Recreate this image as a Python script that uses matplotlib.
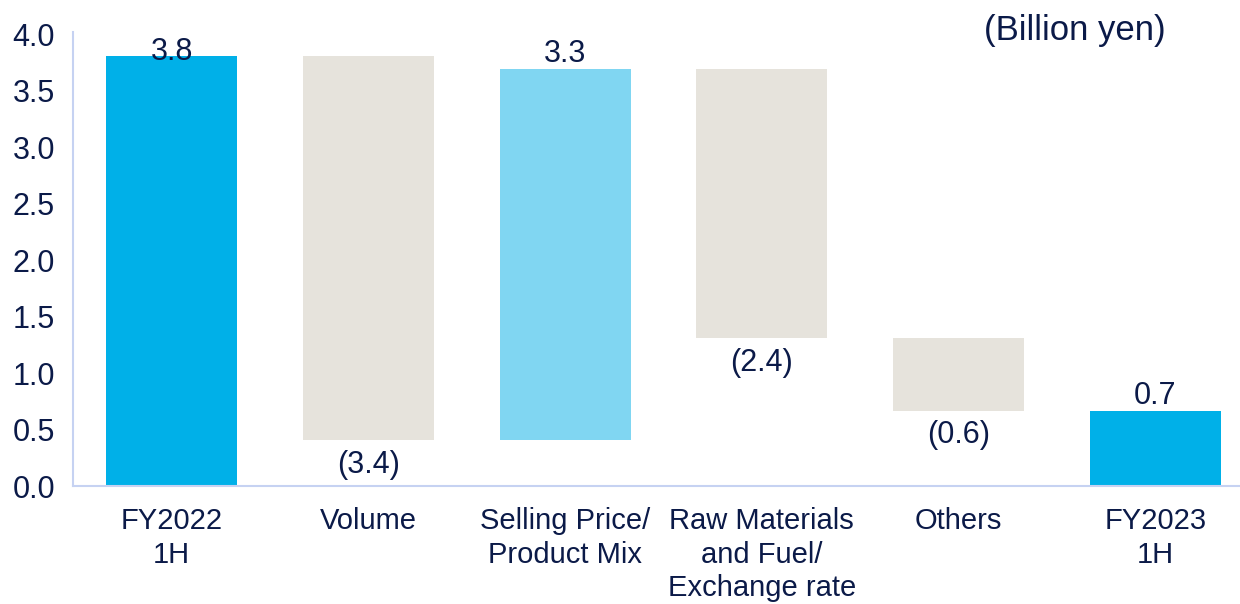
import matplotlib
matplotlib.use('Agg')
from matplotlib import pyplot as plt

categories = ['FY2022\n1H', 'Volume', 'Selling Price/\nProduct Mix',
              'Raw Materials\nand Fuel/\nExchange rate', 'Others', 'FY2023\n1H']
start_value = 3.81
deltas = [-3.40, 3.28, -2.38, -0.64]
end_value = 0.67
labels = ['3.8', '(3.4)', '3.3', '(2.4)', '(0.6)', '0.7']

navy = '#0b1a48'
total_color = '#00b0e8'
up_color = '#80d6f2'
down_color = '#e6e3dc'

plt.rcParams['font.family'] = ['Liberation Sans', 'DejaVu Sans']

# build waterfall bottoms / heights
bottoms = [0]
heights = [start_value]
colors = [total_color]
level = start_value
for d in deltas:
    new_level = level + d
    bottoms.append(min(level, new_level))
    heights.append(abs(d))
    colors.append(up_color if d > 0 else down_color)
    level = new_level
bottoms.append(0)
heights.append(end_value)
colors.append(total_color)

fig = plt.figure(figsize=(12.4, 6.04), dpi=100)
ax = fig.add_axes([0.059, 0.195, 0.941, 0.752])
x = list(range(len(categories)))
ax.bar(x, heights, bottom=bottoms, color=colors, width=0.665)

signs = [1] + [1 if d > 0 else -1 for d in deltas] + [1]
for i in x:
    if signs[i] > 0:
        top = bottoms[i] + heights[i]
        off = -8 if top > 3.75 else 0
        ax.annotate(labels[i], (i, top), xytext=(0, off), textcoords='offset points',
                    ha='center', va='bottom', fontsize=22, color=navy)
    else:
        ax.annotate(labels[i], (i, bottoms[i]), xytext=(0, -7), textcoords='offset points',
                    ha='center', va='top', fontsize=22, color=navy)

ax.set_xlim(-0.5, 5.43)
ax.set_ylim(0, 4.02)
ax.set_yticks([0, 0.5, 1.0, 1.5, 2.0, 2.5, 3.0, 3.5, 4.0])
ax.set_yticklabels(['%.1f' % v for v in ax.get_yticks()])
ax.set_xticks(x)
ax.set_xticklabels(categories, linespacing=1.25)
ax.tick_params(axis='y', length=0, pad=13, labelsize=22, labelcolor=navy)
ax.tick_params(axis='x', length=0, pad=15, labelsize=21, labelcolor=navy)
for s in ['top', 'right']:
    ax.spines[s].set_visible(False)
for s in ['left', 'bottom']:
    ax.spines[s].set_color('#c6d2f2')
    ax.spines[s].set_linewidth(1.5)

fig.text(0.94, 0.95, '(Billion yen)', ha='right', va='center', fontsize=25, color=navy)

fig.savefig('out.png', dpi=100)
